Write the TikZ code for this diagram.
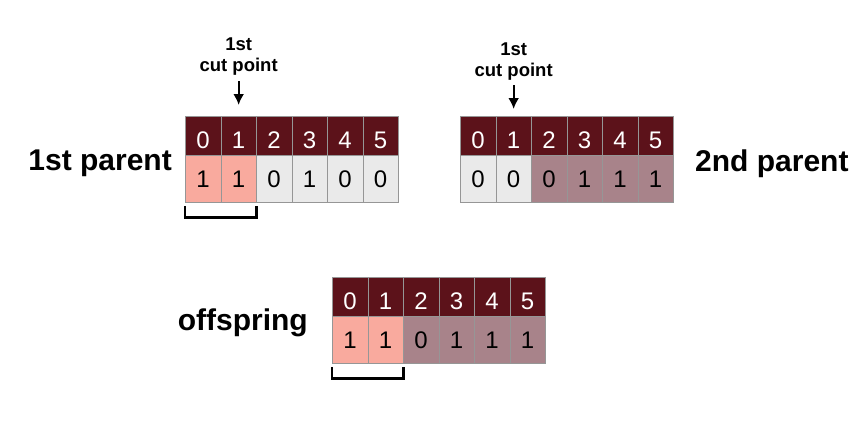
\documentclass[tikz,border=0pt]{standalone}
\usepackage{fontspec}
\setmainfont{Liberation Sans}
\usepackage{tikz}
\usetikzlibrary{arrows.meta}
\usetikzlibrary{calc}
\usetikzlibrary{positioning}

\definecolor{headred}{RGB}{92,18,26}
\definecolor{cutpink}{RGB}{249,170,158}
\definecolor{keepgray}{RGB}{234,234,234}
\definecolor{mauve}{RGB}{168,131,138}
\definecolor{cellline}{RGB}{150,150,150}

\begin{document}
\begin{tikzpicture}
	[
	x = 1pt, y = -1pt,
	> = {Latex[length=11pt,width=11pt]},
	cell/.style = {draw=cellline,line width=0.8pt,inner sep=0pt,anchor=north west,minimum width=35.5pt,font=\fontsize{24}{28}\selectfont},
	cellhead/.style = {cell,fill=headred,text=white,minimum height=39pt,text height=25pt,text depth=0pt},
	cellval/.style = {cell,minimum height=47pt},
	biglabel/.style = {inner sep=0pt,font=\fontsize{30}{36}\selectfont\bfseries},
	cutlabel/.style = {inner sep=0pt,align=center,font=\fontsize{18.5}{21}\selectfont\bfseries},
	cutarrow/.style = {->,line width=2.2pt},
	bracket/.style = {line width=2.8pt}
	]

	\useasboundingbox (0,0) rectangle (864,431);

	\coordinate (@pa) at (185,116);
	\coordinate (@pb) at (460,116);
	\coordinate (@off) at (332,277);

	% 1st parent
	\foreach \i/\v/\c in {0/1/cutpink,1/1/cutpink,2/0/keepgray,3/1/keepgray,4/0/keepgray,5/0/keepgray}
	{
		\node[cellhead] (pa-h\i) at ($(@pa)+(\i*35.5,0)$) {\i};
		\node[cellval,fill=\c] (pa-v\i) at ($(@pa)+(\i*35.5,39)$) {\v};
	}
	\node[biglabel,anchor=east] (pa-name) at (172,163) {1st parent};

	% 2nd parent
	\foreach \i/\v/\c in {0/0/keepgray,1/0/keepgray,2/0/mauve,3/1/mauve,4/1/mauve,5/1/mauve}
	{
		\node[cellhead] (pb-h\i) at ($(@pb)+(\i*35.5,0)$) {\i};
		\node[cellval,fill=\c] (pb-v\i) at ($(@pb)+(\i*35.5,39)$) {\v};
	}
	\node[biglabel,anchor=west] (pb-name) at (695,164) {2nd parent};

	% offspring
	\foreach \i/\v/\c in {0/1/cutpink,1/1/cutpink,2/0/mauve,3/1/mauve,4/1/mauve,5/1/mauve}
	{
		\node[cellhead] (off-h\i) at ($(@off)+(\i*35.5,0)$) {\i};
		\node[cellval,fill=\c] (off-v\i) at ($(@off)+(\i*35.5,39)$) {\v};
	}
	\node[biglabel,anchor=east] (off-name) at (308,323) {offspring};

	% cut points
	\node[cutlabel,above=40.7pt of pa-h1] (cuta) {1st\\cut point};
	\node[cutlabel,above=35.7pt of pb-h1] (cutb) {1st\\cut point};
	\draw[cutarrow] ([yshift=-6pt]cuta.south) -- ([yshift=11pt]pa-h1.north);
	\draw[cutarrow] ([yshift=-5pt]cutb.south) -- ([yshift=7pt]pb-h1.north);

	% brackets under the copied part
	\draw[bracket] ([yshift=-3pt]pa-v0.south west) -- ++(0,12) -| ([yshift=-3pt]pa-v1.south east);
	\draw[bracket] ([yshift=-3pt]off-v0.south west) -- ++(0,12) -| ([yshift=-3pt]off-v1.south east);

\end{tikzpicture}
\end{document}
